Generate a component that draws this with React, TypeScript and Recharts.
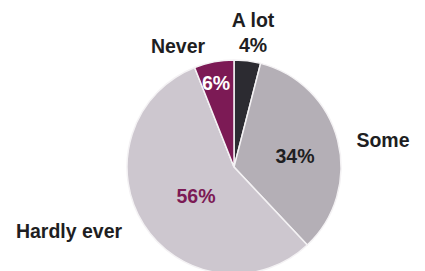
import { PieChart, Pie, Cell } from "recharts";

const categories = ["A lot", "Some", "Hardly ever", "Never"];
const shares = [4, 34, 56, 6];
const sliceColors = ["#2c2b31", "#b4afb6", "#cdc7cf", "#7c1a55"];

const data = categories.map((name, i) => ({ name, value: shares[i] }));

// label offsets relative to pie centre (name / percent)
const labelLayout: Record<string, { name: [number, number]; pct: [number, number]; pctColor: string }> = {
  "A lot": { name: [19, -147], pct: [19, -122], pctColor: "#1e1e22" },
  Some: { name: [149, -27], pct: [61, -11], pctColor: "#1e1e22" },
  "Hardly ever": { name: [-165, 64], pct: [-38, 29], pctColor: "#7c1a55" },
  Never: { name: [-56, -121], pct: [-18, -84], pctColor: "#ffffff" },
};

const CX = 234;
const CY = 167;

function renderLabel(props: any) {
  const { cx, cy, payload } = props;
  const lay = labelLayout[payload.name];
  if (!lay) return null;
  const style = { fontFamily: "Liberation Sans, Arial, sans-serif", fontWeight: 700, fontSize: 19.5 };
  return (
    <g>
      <text x={cx + lay.name[0]} y={cy + lay.name[1]} textAnchor="middle" dominantBaseline="central" fill="#1e1e22" style={style}>
        {payload.name}
      </text>
      <text x={cx + lay.pct[0]} y={cy + lay.pct[1]} textAnchor="middle" dominantBaseline="central" fill={lay.pctColor} style={style}>
        {payload.value}%
      </text>
    </g>
  );
}

export default function App() {
  return (
    <div style={{ position: "absolute", left: 0, top: 0, width: 425, height: 271, background: "#fff" }}>
      <PieChart width={425} height={271} margin={{ top: 0, right: 0, bottom: 0, left: 0 }}>
        <Pie
          data={data}
          dataKey="value"
          cx={CX}
          cy={CY}
          innerRadius={0}
          outerRadius={107}
          startAngle={90}
          endAngle={-270}
          stroke="#f4f2f4"
          strokeWidth={1.5}
          label={renderLabel}
          labelLine={false}
          isAnimationActive={false}
        >
          {data.map((entry, i) => (
            <Cell key={entry.name} fill={sliceColors[i]} />
          ))}
        </Pie>
      </PieChart>
    </div>
  );
}
